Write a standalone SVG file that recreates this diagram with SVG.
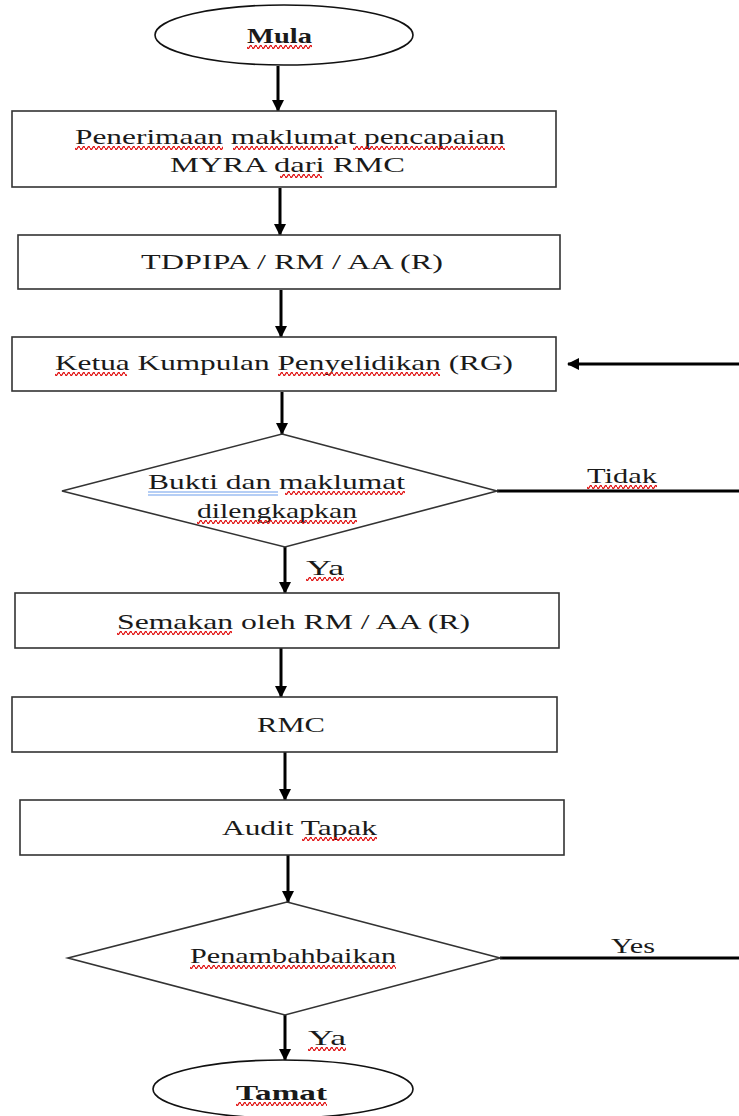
<svg xmlns="http://www.w3.org/2000/svg" width="739" height="1116" viewBox="0 0 739 1116">
<style>
.box{fill:#fff;stroke:#333;stroke-width:1.6}
.term{fill:#fff;stroke:#111;stroke-width:1.6}
.t{font-family:"Liberation Serif","DejaVu Serif",serif;font-size:22px;fill:#1a1a1a}
.b{font-weight:bold}
.c{stroke:#000;stroke-width:3;fill:none}
.ca{stroke:#000;stroke-width:3;fill:none;marker-end:url(#ah)}
.sq{fill:url(#sq)}
</style>
<defs>
<marker id="ah" markerUnits="userSpaceOnUse" markerWidth="12" markerHeight="12" refX="11" refY="6" orient="auto">
<path d="M0,0 L12,6 L0,12 z" fill="#000"/>
</marker>
<pattern id="sq" width="5" height="4" patternUnits="userSpaceOnUse">
<path d="M0 2 Q1.25 5 2.5 2 T5 2" fill="none" stroke="#e01010" stroke-width="1.3"/>
</pattern>
</defs>
<rect width="739" height="1116" fill="#fff"/>

<g id="connectors">
<line class="ca" x1="278" y1="66" x2="278" y2="111"/>
<line class="ca" x1="280" y1="188" x2="280" y2="235"/>
<line class="ca" x1="281" y1="290" x2="281" y2="337"/>
<line class="ca" x1="282" y1="392" x2="282" y2="434"/>
<line class="ca" x1="285" y1="547" x2="285" y2="593"/>
<line class="ca" x1="281" y1="648" x2="281" y2="697"/>
<line class="ca" x1="285" y1="752" x2="285" y2="800"/>
<line class="ca" x1="288" y1="855" x2="288" y2="902"/>
<line class="ca" x1="285" y1="1015" x2="285" y2="1060"/>
<line class="ca" x1="739" y1="364" x2="568" y2="364"/>
<line class="c" x1="497" y1="491" x2="739" y2="491"/>
<line class="c" x1="500" y1="958" x2="739" y2="958"/>
<text class="t" x="587" y="483" textLength="70" lengthAdjust="spacingAndGlyphs">Tidak</text>
<rect class="sq" transform="translate(587,485)" width="70" height="4"/>
<text class="t" x="306" y="575" textLength="38" lengthAdjust="spacingAndGlyphs">Ya</text>
<rect class="sq" transform="translate(306,577)" width="38" height="4"/>
<text class="t" x="611" y="953" textLength="44" lengthAdjust="spacingAndGlyphs">Yes</text>
<text class="t" x="308" y="1045" textLength="38" lengthAdjust="spacingAndGlyphs">Ya</text>
<rect class="sq" transform="translate(308,1047)" width="38" height="4"/>
</g>

<g id="mula">
<ellipse class="term" cx="284" cy="35" rx="129" ry="30"/>
<text class="t b" x="247" y="43" textLength="65" lengthAdjust="spacingAndGlyphs">Mula</text>
<rect class="sq" transform="translate(247,45)" width="65" height="4"/>
</g>

<g id="penerimaan">
<rect class="box" x="12" y="111" width="544" height="76"/>
<text class="t" x="75" y="144" textLength="430" lengthAdjust="spacingAndGlyphs">Penerimaan  maklumat  pencapaian</text>
<text class="t" x="170" y="172" textLength="235" lengthAdjust="spacingAndGlyphs">MYRA dari RMC</text>
<rect class="sq" transform="translate(75,146)" width="148" height="4"/>
<rect class="sq" transform="translate(233,146)" width="105" height="4"/>
<rect class="sq" transform="translate(353,146)" width="152" height="4"/>
<rect class="sq" transform="translate(280,174)" width="42" height="4"/>
</g>

<g id="tdpipa">
<rect class="box" x="18" y="235" width="542" height="54"/>
<text class="t" x="141" y="269" textLength="302" lengthAdjust="spacingAndGlyphs">TDPIPA / RM / AA (R)</text>
</g>

<g id="ketua">
<rect class="box" x="12" y="337" width="544" height="54"/>
<text class="t" x="55" y="370" textLength="458" lengthAdjust="spacingAndGlyphs">Ketua  Kumpulan  Penyelidikan  (RG)</text>
<rect class="sq" transform="translate(55,372)" width="72" height="4"/>
<rect class="sq" transform="translate(278,372)" width="162" height="4"/>
</g>

<g id="bukti">
<polygon class="box" points="282,434 497,491 285,547 62,491"/>
<text class="t" x="148" y="489" textLength="257" lengthAdjust="spacingAndGlyphs">Bukti   dan maklumat</text>
<text class="t" x="197" y="518" textLength="160" lengthAdjust="spacingAndGlyphs">dilengkapkan</text>
<line x1="148" y1="492" x2="278" y2="492" stroke="#6d9eeb" stroke-width="1.2"/>
<line x1="148" y1="495" x2="278" y2="495" stroke="#6d9eeb" stroke-width="1.2"/>
<rect class="sq" transform="translate(285,491)" width="120" height="4"/>
<rect class="sq" transform="translate(197,520)" width="160" height="4"/>
</g>

<g id="semakan">
<rect class="box" x="15" y="593" width="544" height="55"/>
<text class="t" x="117" y="629" textLength="353" lengthAdjust="spacingAndGlyphs">Semakan  oleh  RM / AA (R)</text>
<rect class="sq" transform="translate(117,631)" width="115" height="4"/>
</g>

<g id="rmc">
<rect class="box" x="12" y="697" width="545" height="55"/>
<text class="t" x="257" y="732" textLength="68" lengthAdjust="spacingAndGlyphs">RMC</text>
</g>

<g id="audit">
<rect class="box" x="20" y="800" width="544" height="55"/>
<text class="t" x="222" y="835" textLength="155" lengthAdjust="spacingAndGlyphs">Audit Tapak</text>
<rect class="sq" transform="translate(302,837)" width="75" height="4"/>
</g>

<g id="penambahbaikan">
<polygon class="box" points="287,902 500,958 285,1015 68,958"/>
<text class="t" x="190" y="963" textLength="206" lengthAdjust="spacingAndGlyphs">Penambahbaikan</text>
<rect class="sq" transform="translate(190,965)" width="206" height="4"/>
</g>

<g id="tamat">
<ellipse class="term" cx="283" cy="1089" rx="130" ry="29"/>
<text class="t b" x="236" y="1100" textLength="91" lengthAdjust="spacingAndGlyphs">Tamat</text>
<rect class="sq" transform="translate(236,1102)" width="91" height="4"/>
</g>
</svg>
